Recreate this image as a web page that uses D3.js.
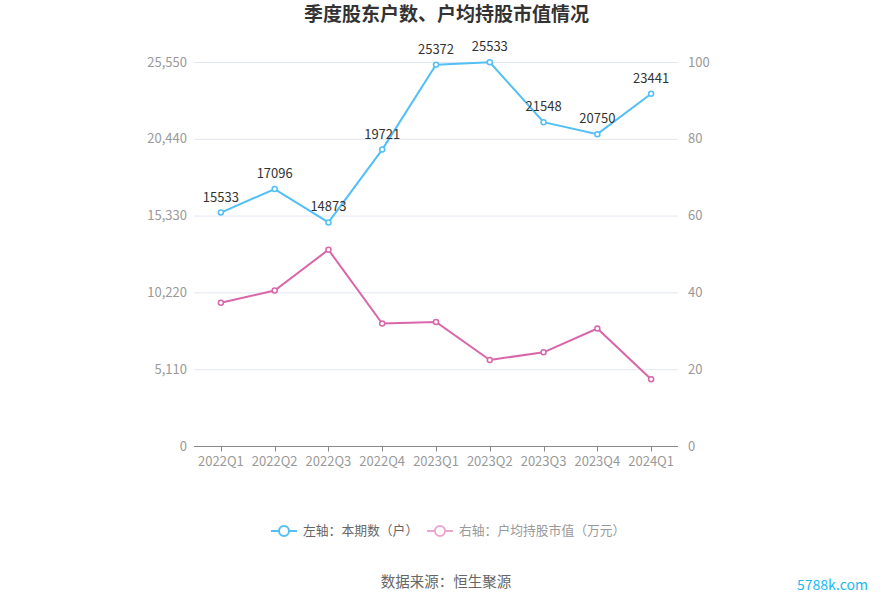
<!DOCTYPE html>
<html><head><meta charset="utf-8">
<script src="https://cdn.jsdelivr.net/npm/d3@7"></script>
<style>
body{margin:0;background:#fff;font-family:"Noto Sans CJK SC","Noto Sans",sans-serif;}
</style></head>
<body><svg id="c" width="893" height="603"></svg>
<script>
const categories=["2022Q1","2022Q2","2022Q3","2022Q4","2023Q1","2023Q2","2023Q3","2023Q4","2024Q1"];
const holders=[15533,17096,14873,19721,25372,25533,21548,20750,23441];
const avgValue=[37.3,40.5,51.1,31.9,32.3,22.4,24.4,30.6,17.4];
const leftTicks=[0,5110,10220,15330,20440,25550];
const rightTicks=[0,20,40,60,80,100];
const title="季度股东户数、户均持股市值情况";
const legendNames=["左轴：本期数（户）","右轴：户均持股市值（万元）"];
const source="数据来源：恒生聚源";
const watermark="5788k.com";

const svg=d3.select("#c");
const font='"Noto Sans CJK SC","Noto Sans",sans-serif';
const L=194,R=678,T=62,B=446;
const x=d3.scaleBand().domain(categories).range([L,R]);
const yL=d3.scaleLinear().domain([0,25550]).range([B,T]);
const yR=d3.scaleLinear().domain([0,100]).range([B,T]);
const blue="#52bff5",pink="#d966a9";

svg.append("text").attr("x",446.5).attr("y",21).attr("text-anchor","middle")
  .attr("font-family",font).attr("font-size",19).attr("font-weight","bold").attr("fill","#333").text(title);

// grid
svg.append("g").selectAll("line").data(leftTicks.slice(1)).join("line")
  .attr("x1",L).attr("x2",R).attr("y1",d=>yL(d)+0.5).attr("y2",d=>yL(d)+0.5)
  .attr("stroke","#e3e7f2").attr("stroke-width",1);

// left labels
svg.append("g").selectAll("text").data(leftTicks).join("text")
  .attr("x",187).attr("y",d=>yL(d)).attr("dy","0.35em").attr("text-anchor","end")
  .attr("font-family",font).attr("font-size",13).attr("fill","#999")
  .text(d=>d3.format(",")(d));
// right labels
svg.append("g").selectAll("text").data(rightTicks).join("text")
  .attr("x",688).attr("y",d=>yR(d)).attr("dy","0.35em").attr("text-anchor","start")
  .attr("font-family",font).attr("font-size",13).attr("fill","#999")
  .text(d=>d);

// x axis
const xa=svg.append("g").attr("transform",`translate(0,${B+0.5})`);
xa.append("line").attr("x1",L).attr("x2",R).attr("stroke","#888");
xa.selectAll("line.t").data(categories).join("line").attr("class","t")
  .attr("x1",d=>Math.round(x(d)+x.bandwidth()/2)+0.5).attr("x2",d=>Math.round(x(d)+x.bandwidth()/2)+0.5)
  .attr("y1",0).attr("y2",5).attr("stroke","#888");
xa.selectAll("text").data(categories).join("text")
  .attr("x",d=>x(d)+x.bandwidth()/2).attr("y",19).attr("text-anchor","middle")
  .attr("font-family",font).attr("font-size",13).attr("fill","#999").text(d=>d);

const cx=(d,i)=>x(categories[i])+x.bandwidth()/2;
function series(vals,ys,color){
  svg.append("path").datum(vals).attr("fill","none").attr("stroke",color).attr("stroke-width",2)
    .attr("d",d3.line().x(cx).y(d=>ys(d)));
  svg.append("g").selectAll("circle").data(vals).join("circle")
    .attr("cx",cx).attr("cy",d=>ys(d)).attr("r",2.5).attr("fill","#fff").attr("stroke",color).attr("stroke-width",1.5);
}
series(holders,yL,blue);
series(avgValue,yR,pink);

svg.append("g").selectAll("text").data(holders).join("text")
  .attr("x",cx).attr("y",d=>yL(d)-11).attr("text-anchor","middle")
  .attr("font-family",font).attr("font-size",13).attr("fill","#333").text(d=>d);

// legend
const lg=[{n:legendNames[0],c:blue,x:271,tc:"#666"},{n:legendNames[1],c:"#eaa6d0",x:427,tc:"#999"}];
lg.forEach(o=>{
  const g=svg.append("g").attr("transform",`translate(${o.x},531)`);
  g.append("line").attr("x1",0).attr("x2",26).attr("stroke",o.c).attr("stroke-width",2);
  g.append("circle").attr("cx",13).attr("cy",0).attr("r",5).attr("fill","#fff").attr("stroke",o.c).attr("stroke-width",2);
  g.append("text").attr("x",32).attr("dy","0.35em").attr("font-family",font).attr("font-size",12.8).attr("fill",o.tc).text(o.n);
});

svg.append("text").attr("x",446).attr("y",587).attr("text-anchor","middle")
  .attr("font-family",font).attr("font-size",14.5).attr("fill","#666").text(source);
svg.append("text").attr("x",868).attr("y",590).attr("text-anchor","end")
  .attr("font-family",font).attr("font-size",14).attr("fill","#21b8ef").text(watermark);
</script></body></html>
